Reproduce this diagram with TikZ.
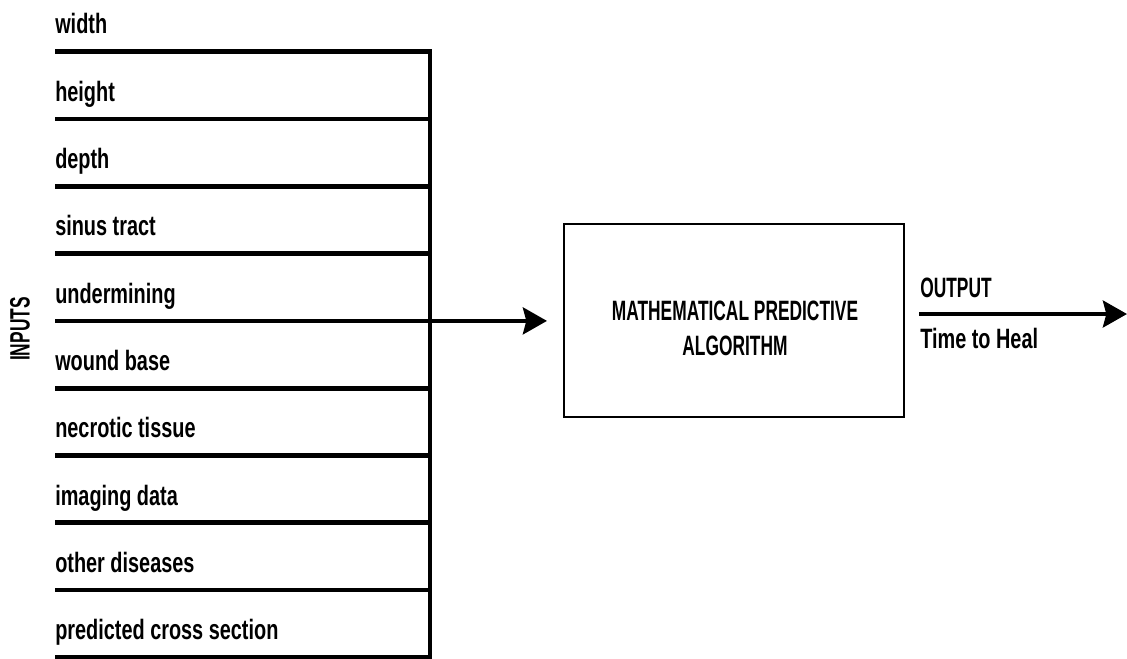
\documentclass[tikz,border=0pt]{standalone}
\usepackage{fontspec}
\setmainfont{Liberation Sans}[FakeStretch=0.71]
\newfontfamily\capsfont{Liberation Sans}[FakeStretch=0.62]
\usetikzlibrary{arrows.meta}

\begin{document}
\begin{tikzpicture}[x=0.75pt,y=-0.75pt,
  lbl/.style={anchor=base west,inner sep=0pt,font=\fontsize{21}{24}\selectfont\bfseries},
  caps/.style={lbl,font=\fontsize{21}{26}\selectfont\capsfont\bfseries},
  inline/.style={line width=3.5pt,line join=miter},
  tip/.style={-{Stealth[length=18pt,width=20pt,inset=2.5pt]}}]
\useasboundingbox (0,0) rectangle (1127,658);
% inputs
\foreach \t [count=\i from 0] in {width,height,depth,sinus tract,undermining,wound base,necrotic tissue,imaging data,other diseases,predicted cross section} {
  \coordinate (l\i) at (55,51.7+67.3*\i);
  \coordinate (r\i) at (430,51.7+67.3*\i);
  \node[lbl] (t\i) at ([yshift=13.3pt]l\i) {\t};
}
\foreach \i in {1,...,8} \draw[inline] (l\i) -- (r\i);
\draw[inline] (l0) -- (r0) -- (r9) -- (l9);
\node[caps,anchor=center,rotate=90] (inputs) at (20,329) {INPUTS};
% algorithm
\node[draw,line width=1.5pt,minimum width=255pt,minimum height=144.5pt] (algo) at (734,320.5) {};
\node[caps,anchor=base] (alg1) at (735,320) {MATHEMATICAL PREDICTIVE};
\node[caps,anchor=base] (alg2) at (735,355) {ALGORITHM};
\draw[inline,tip] (l4) -- ([xshift=-12pt]algo.west |- l4);
% output
\coordinate (o1) at (919,314);
\coordinate (o2) at (1127,314);
\draw[inline,tip] (o1) -- (o2);
\node[caps] (out) at (920,297) {OUTPUT};
\node[lbl] (heal) at (920,348) {Time to Heal};
\end{tikzpicture}
\end{document}
